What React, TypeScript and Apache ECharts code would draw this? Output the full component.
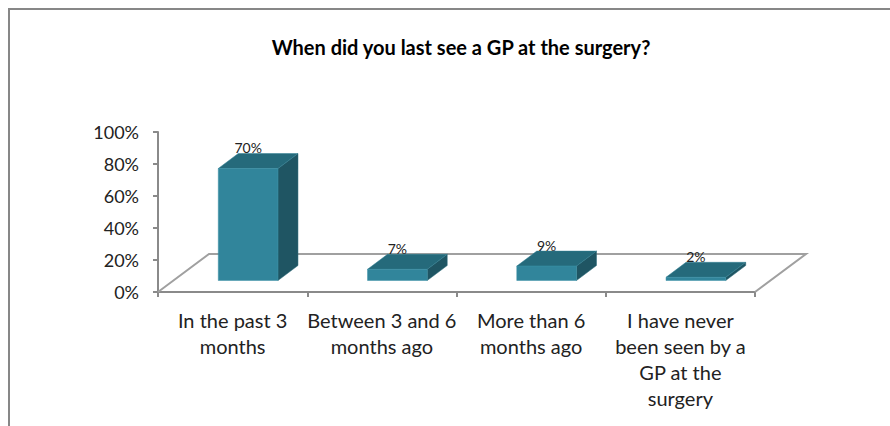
import React, { useEffect, useRef } from "react";
import * as echarts from "echarts";

const TITLE = "When did you last see a GP at the surgery?";
const categories = [
  "In the past 3\nmonths",
  "Between 3 and 6\nmonths ago",
  "More than 6\nmonths ago",
  "I have never\nbeen seen by a\nGP at the\nsurgery",
];
const values = [0.7, 0.07, 0.09, 0.02];
const yMin = 0;
const yMax = 1;
const yStep = 0.2;

const FONT = "Lato, 'Open Sans', sans-serif";
const FLOOR_DX = 51;
const FLOOR_DY = -38;
const BAR_DX = 20;
const BAR_DY = -15;
const BAR_W = 0.4;
const C_FRONT = "#31859b";
const C_TOP = "#256a7b";
const C_SIDE = "#1f5563";
const AXIS_C = "#8a8a8a";

export default function App() {
  const ref = useRef<HTMLDivElement>(null);
  useEffect(() => {
    if (!ref.current) return;
    const chart = echarts.init(ref.current, null, { renderer: "svg" });
    const offX = (FLOOR_DX - BAR_DX) / 2;
    const offY = (FLOOR_DY - BAR_DY) / 2;
    chart.setOption({
      animation: false,
      backgroundColor: "#ffffff",
      title: {
        text: TITLE,
        left: 456,
        top: 32,
        textAlign: "center",
        textStyle: { fontFamily: FONT, fontSize: 20, fontWeight: "bold", color: "#000" },
      },
      graphic: [
        {
          type: "rect",
          shape: { x: 9, y: 9, width: 900, height: 430 },
          style: { fill: "none", stroke: "#878787", lineWidth: 2 },
          silent: true,
        },
      ],
      grid: { left: 158, right: 135, top: 132, bottom: 134 },
      xAxis: {
        type: "category",
        data: categories,
        axisLine: { show: true, lineStyle: { color: AXIS_C, width: 2 } },
        axisTick: { show: true, length: 5, interval: 0, lineStyle: { color: AXIS_C, width: 2 } },
        axisLabel: {
          interval: 0,
          margin: 15,
          fontFamily: FONT,
          fontSize: 20,
          lineHeight: 26,
          color: "#222",
        },
      },
      yAxis: {
        type: "value",
        min: yMin,
        max: yMax,
        interval: yStep,
        splitLine: { show: false },
        axisLine: { show: true, lineStyle: { color: AXIS_C, width: 2 } },
        axisTick: { show: true, length: 5, lineStyle: { color: AXIS_C, width: 2 } },
        axisLabel: {
          margin: 19,
          fontFamily: FONT,
          fontSize: 18,
          color: "#222",
          formatter: (v: number) => Math.round(v * 100) + "%",
        },
      },
      series: [
        {
          type: "custom",
          name: "floor",
          clip: false,
          z: 1,
          data: [[0]],
          renderItem: (params: any, api: any) => {
            const first = api.coord([0, 0]);
            const last = api.coord([categories.length - 1, 0]);
            const band = api.size([1, 0])[0];
            const xl = first[0] - band / 2;
            const xr = last[0] + band / 2;
            const y = first[1];
            return {
              type: "polyline",
              shape: {
                points: [
                  [xl, y],
                  [xl + FLOOR_DX, y + FLOOR_DY],
                  [xr + FLOOR_DX, y + FLOOR_DY],
                  [xr, y],
                ],
              },
              style: { fill: "none", stroke: "#a0a0a0", lineWidth: 2 },
            };
          },
        },
        {
          type: "custom",
          name: "bars",
          clip: false,
          z: 3,
          data: values.map((v, i) => [i, v]),
          renderItem: (params: any, api: any) => {
            const idx = api.value(0);
            const v = api.value(1);
            const base = api.coord([idx, 0]);
            const top = api.coord([idx, v]);
            const band = api.size([1, 0])[0];
            const w = band * BAR_W;
            const x0 = base[0] - w / 2 + offX;
            const x1 = x0 + w;
            const yb = base[1] + offY;
            const yt = top[1] + offY;
            return {
              type: "group",
              children: [
                {
                  type: "polygon",
                  shape: {
                    points: [
                      [x1, yt],
                      [x1 + BAR_DX, yt + BAR_DY],
                      [x1 + BAR_DX, yb + BAR_DY],
                      [x1, yb],
                    ],
                  },
                  style: { fill: C_SIDE, stroke: "#2a6b7a", lineWidth: 0.5 },
                },
                {
                  type: "polygon",
                  shape: {
                    points: [
                      [x0, yt],
                      [x1, yt],
                      [x1 + BAR_DX, yt + BAR_DY],
                      [x0 + BAR_DX, yt + BAR_DY],
                    ],
                  },
                  style: { fill: C_TOP, stroke: "#2f7f92", lineWidth: 0.5 },
                },
                {
                  type: "rect",
                  shape: { x: x0, y: yt, width: w, height: Math.max(0, yb - yt) },
                  style: { fill: C_FRONT, stroke: "#3a91a6", lineWidth: 0.5 },
                },
                {
                  type: "text",
                  style: {
                    x: x0 + w / 2,
                    y: yt + BAR_DY + 1,
                    text: Math.round(v * 100) + "%",
                    align: "center",
                    verticalAlign: "bottom",
                    fontFamily: FONT,
                    fontSize: 14,
                    fill: "#222",
                  },
                  z2: 10,
                },
              ],
            };
          },
        },
      ],
    });
    return () => chart.dispose();
  }, []);
  return (
    <div
      ref={ref}
      style={{ position: "fixed", left: 0, top: 0, width: 890, height: 426, background: "#fff" }}
    />
  );
}
